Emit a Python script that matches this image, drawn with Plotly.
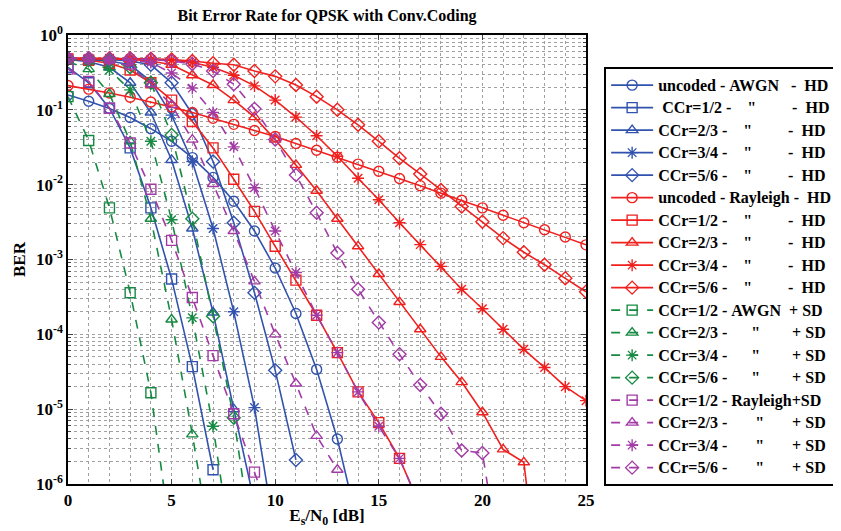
import plotly.graph_objects as go

# ---------------- data (BER vs Es/N0 in dB) ----------------
unc_awgn_hd_x = list(range(0, 15))
unc_awgn_hd = [0.158, 0.130, 0.104, 0.079, 0.056, 0.038, 0.023, 0.0125, 0.006, 0.0024,
               7.7e-4, 1.9e-4, 3.4e-5, 4.0e-6, 2.7e-7]

cc12_awgn_hd_x = list(range(0, 8))
cc12_awgn_hd = [0.37, 0.23, 0.105, 0.031, 0.0049, 5.5e-4, 3.7e-5, 1.55e-6]

cc23_awgn_hd_x = list(range(0, 10))
cc23_awgn_hd = [0.47, 0.44, 0.37, 0.23, 0.092, 0.0214, 0.0026, 1.96e-4, 1.0e-5, 5.6e-7]

cc34_awgn_hd_x = list(range(0, 11))
cc34_awgn_hd = [0.48, 0.47, 0.45, 0.40, 0.24, 0.085, 0.0204, 0.0026, 2.0e-4, 1.05e-5, 2.0e-7]

cc56_awgn_hd_x = list(range(0, 12))
cc56_awgn_hd = [0.48, 0.48, 0.47, 0.45, 0.40, 0.23, 0.088, 0.0204, 0.0031, 3.6e-4, 3.3e-5, 2.1e-6]

unc_ray_hd_x = list(range(0, 26))
unc_ray_hd = [0.211, 0.189, 0.168, 0.147, 0.127, 0.109, 0.092, 0.077, 0.064, 0.053,
              0.044, 0.0355, 0.0288, 0.0233, 0.0188, 0.0151, 0.0121, 0.0097, 0.0077, 0.0062,
              0.0049, 0.0039, 0.0031, 0.0025, 0.0020, 0.00157]

cc12_ray_hd_x = list(range(0, 18))
cc12_ray_hd = [0.48, 0.46, 0.42, 0.34, 0.23, 0.135, 0.07, 0.031, 0.0118, 0.0044,
               0.0015, 5.3e-4, 1.8e-4, 5.7e-5, 1.7e-5, 6.6e-6, 2.2e-6, 5.0e-7]

cc23_ray_hd_x = list(range(0, 24))
cc23_ray_hd = [0.49, 0.49, 0.48, 0.47, 0.45, 0.40, 0.29, 0.215, 0.135, 0.08,
               0.04, 0.0184, 0.0083, 0.0035, 0.0015, 6.4e-4, 2.7e-4, 1.17e-4, 5.0e-5, 2.3e-5,
               9.1e-6, 2.9e-6, 1.95e-6, 1.0e-8]

cc34_ray_hd_x = list(range(0, 26))
cc34_ray_hd = [0.49, 0.49, 0.49, 0.48, 0.47, 0.46, 0.43, 0.37, 0.29, 0.209,
               0.135, 0.08, 0.045, 0.024, 0.0122, 0.0063, 0.0031, 0.00158, 8.1e-4, 4.0e-4,
               2.2e-4, 1.17e-4, 6.3e-5, 3.6e-5, 2.0e-5, 1.3e-5]

cc56_ray_hd_x = list(range(0, 26))
cc56_ray_hd = [0.49, 0.49, 0.49, 0.49, 0.48, 0.47, 0.45, 0.42, 0.40, 0.33,
               0.28, 0.215, 0.15, 0.10, 0.063, 0.038, 0.0225, 0.0139, 0.0085, 0.0051,
               0.0032, 0.00193, 0.00125, 8.5e-4, 5.6e-4, 3.7e-4]

cc12_awgn_sd_x = list(range(0, 6))
cc12_awgn_sd = [0.15, 0.039, 0.0049, 3.6e-4, 1.66e-5, 1.6e-7]

cc23_awgn_sd_x = list(range(0, 8))
cc23_awgn_sd = [0.44, 0.35, 0.163, 0.038, 0.0035, 1.58e-4, 4.6e-6, 1.0e-7]

cc34_awgn_sd_x = list(range(0, 9))
cc34_awgn_sd = [0.48, 0.45, 0.34, 0.185, 0.038, 0.0034, 1.66e-4, 5.9e-6, 8.0e-8]

cc56_awgn_sd_x = list(range(0, 10))
cc56_awgn_sd = [0.49, 0.48, 0.46, 0.37, 0.23, 0.046, 0.0035, 1.74e-4, 7.7e-6, 1.0e-7]

cc12_ray_sd_x = list(range(0, 11))
cc12_ray_sd = [0.35, 0.24, 0.105, 0.036, 0.0087, 0.0018, 3.1e-4, 5.2e-5, 8.7e-6, 1.44e-6, 2.4e-7]

cc23_ray_sd_x = list(range(0, 14))
cc23_ray_sd = [0.49, 0.48, 0.46, 0.38, 0.22, 0.116, 0.04, 0.0102, 0.0024, 5.1e-4,
               1.0e-4, 2.2e-5, 4.4e-6, 1.55e-6]

cc34_ray_sd_x = list(range(0, 18))
cc34_ray_sd = [0.49, 0.48, 0.47, 0.46, 0.43, 0.31, 0.195, 0.092, 0.032, 0.0091,
               0.0024, 6.7e-4, 1.8e-4, 5.7e-5, 1.7e-5, 5.9e-6, 2.2e-6, 5.0e-7]

cc56_ray_sd_x = list(range(0, 22))
cc56_ray_sd = [0.49, 0.49, 0.48, 0.48, 0.47, 0.45, 0.41, 0.33, 0.22, 0.103,
               0.04, 0.0135, 0.0042, 0.00122, 4.0e-4, 1.44e-4, 5.4e-5, 2.1e-5, 8.7e-6, 2.8e-6,
               2.6e-6, 5.0e-8]

labels = [
    "uncoded - AWGN   -  HD",
    " CCr=1/2 -    \"         -  HD",
    "CCr=2/3 -    \"         -  HD",
    "CCr=3/4 -    \"         -  HD",
    "CCr=5/6 -    \"         -  HD",
    "uncoded - Rayleigh -  HD",
    "CCr=1/2 -    \"         -  HD",
    "CCr=2/3 -    \"         -  HD",
    "CCr=3/4 -    \"         -  HD",
    "CCr=5/6 -    \"         -  HD",
    "CCr=1/2 - AWGN  + SD",
    "CCr=2/3 -      \"        + SD",
    "CCr=3/4 -      \"        + SD",
    "CCr=5/6 -      \"        + SD",
    "CCr=1/2 - Rayleigh+SD",
    "CCr=2/3 -       \"       + SD",
    "CCr=3/4 -       \"       + SD",
    "CCr=5/6 -       \"       + SD",
]

x_ticks = [0, 5, 10, 15, 20, 25]
y_ticks = [1e-6, 1e-5, 1e-4, 1e-3, 1e-2, 1e-1, 1]
y_ticktext = ["10<sup>-6</sup>", "10<sup>-5</sup>", "10<sup>-4</sup>", "10<sup>-3</sup>",
              "10<sup>-2</sup>", "10<sup>-1</sup>", "10<sup>0</sup>"]

# ---------------- styles ----------------
BLUE = "#3153AE"
RED = "#F0201E"
GREEN = "#168A42"
PURPLE = "#A23BA6"

series = [
    (unc_awgn_hd_x, unc_awgn_hd, BLUE, "circle-open", "solid"),
    (cc12_awgn_hd_x, cc12_awgn_hd, BLUE, "square-open", "solid"),
    (cc23_awgn_hd_x, cc23_awgn_hd, BLUE, "triangle-up-open", "solid"),
    (cc34_awgn_hd_x, cc34_awgn_hd, BLUE, "asterisk-open", "solid"),
    (cc56_awgn_hd_x, cc56_awgn_hd, BLUE, "diamond-open", "solid"),
    (unc_ray_hd_x, unc_ray_hd, RED, "circle-open", "solid"),
    (cc12_ray_hd_x, cc12_ray_hd, RED, "square-open", "solid"),
    (cc23_ray_hd_x, cc23_ray_hd, RED, "triangle-up-open", "solid"),
    (cc34_ray_hd_x, cc34_ray_hd, RED, "asterisk-open", "solid"),
    (cc56_ray_hd_x, cc56_ray_hd, RED, "diamond-open", "solid"),
    (cc12_awgn_sd_x, cc12_awgn_sd, GREEN, "square-open", "dash"),
    (cc23_awgn_sd_x, cc23_awgn_sd, GREEN, "triangle-up-open", "dash"),
    (cc34_awgn_sd_x, cc34_awgn_sd, GREEN, "asterisk-open", "dash"),
    (cc56_awgn_sd_x, cc56_awgn_sd, GREEN, "diamond-open", "dash"),
    (cc12_ray_sd_x, cc12_ray_sd, PURPLE, "square-open", "dash"),
    (cc23_ray_sd_x, cc23_ray_sd, PURPLE, "triangle-up-open", "dash"),
    (cc34_ray_sd_x, cc34_ray_sd, PURPLE, "asterisk-open", "dash"),
    (cc56_ray_sd_x, cc56_ray_sd, PURPLE, "diamond-open", "dash"),
]

FONT = "Liberation Serif, Times New Roman, serif"

fig = go.Figure()
for (xs, ys, col, sym, dash), lab in zip(series, labels):
    fig.add_trace(go.Scatter(
        x=xs, y=ys, mode="lines+markers",
        name="<span style='font-size:16px'>" + lab.replace(" ", "\u00a0") + "</span>",
        line=dict(color=col, width=1.6, dash=dash),
        marker=dict(symbol=sym, size=10, color=col, line=dict(color=col, width=1.4)),
    ))

minor_y = [k * 10.0 ** e for e in range(-6, 0) for k in range(2, 10)]

grid_col = "#a0a0a0"
# page body has an 8px default margin, so the figure is sized 833x523
fig.update_layout(
    width=833, height=523,
    margin=dict(l=60, r=255, t=27, b=47, autoexpand=False),
    paper_bgcolor="white", plot_bgcolor="white",
    title=dict(text="Bit Error Rate for QPSK with Conv.Coding", x=0.383, xanchor="center",
               y=0.997, yanchor="top",
               font=dict(family=FONT, size=16, color="black", weight="bold")),
    font=dict(family=FONT, color="black", size=15),
    showlegend=True,
    legend=dict(
        x=1.035, y=0.929, xanchor="left", yanchor="top",
        bordercolor="black", borderwidth=2, bgcolor="white",
        font=dict(family=FONT, size=15, color="black", weight="bold"),
        tracegroupgap=0, itemwidth=42,
    ),
    xaxis=dict(
        range=[0, 25], tickvals=x_ticks, ticks="inside", ticklen=5, automargin=False,
        showline=True, linecolor="black", linewidth=1.5, mirror="ticks",
        showgrid=True, gridcolor=grid_col, griddash="dot", gridwidth=1,
        zeroline=False,
        tickfont=dict(family=FONT, size=17, color="black", weight="bold"),
        minor=dict(dtick=1, showgrid=True, gridcolor=grid_col, griddash="dot",
                   gridwidth=1, ticks=""),
        title=dict(text="E<sub>s</sub>/N<sub>0</sub> [dB]", standoff=0,
                   font=dict(family=FONT, size=17, color="black", weight="bold")),
    ),
    yaxis=dict(
        type="log", range=[-6, 0], tickvals=y_ticks, ticktext=y_ticktext, automargin=False,
        ticks="inside", ticklen=5,
        showline=True, linecolor="black", linewidth=1.5, mirror="ticks",
        showgrid=True, gridcolor=grid_col, griddash="dot", gridwidth=1,
        zeroline=False,
        tickfont=dict(family=FONT, size=17, color="black", weight="bold"),
        minor=dict(tickmode="array", tickvals=minor_y, showgrid=True, gridcolor=grid_col,
                   griddash="dot", gridwidth=1, ticks="inside", ticklen=3),
        title=dict(text="BER", standoff=6,
                   font=dict(family=FONT, size=17, color="black", weight="bold")),
    ),
)

fig.write_html("out.html")
